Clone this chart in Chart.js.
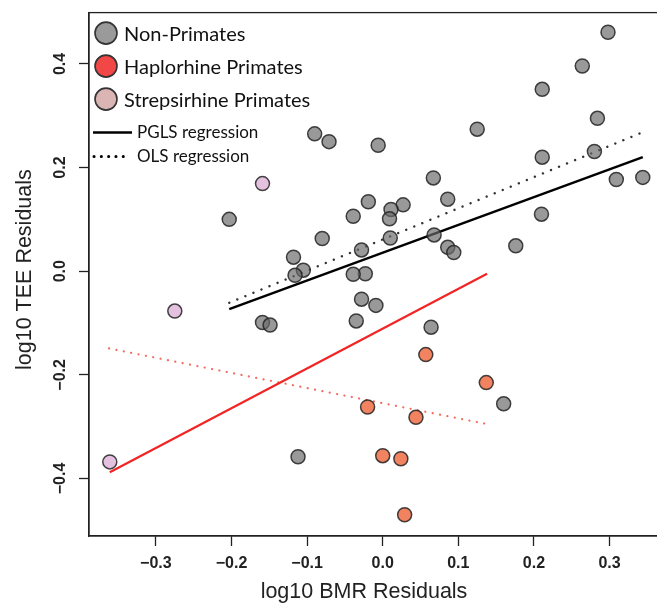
<!DOCTYPE html>
<html>
<head>
<meta charset="utf-8">
<script src="https://cdn.jsdelivr.net/npm/chart.js@4/dist/chart.umd.min.js"></script>
<style>
    html, body {
        margin: 0;
        padding: 0;
        background: #fff;
    }
    #wrap {
        width: 657px;
        height: 606px;
        overflow: hidden;
    }
</style>
</head>
<body>
<div id="wrap">
    <canvas id="chart" width="680" height="606"></canvas>
</div>
<script>
// residuals (log10 BMR, log10 TEE) per group
const nonPrimatesX = [0.298, 0.264, 0.211, 0.284, 0.125, -0.090, -0.071, -0.006, 0.280, 0.211,
    0.067, 0.344, 0.309, 0.086, -0.019, 0.027, 0.011, 0.210, -0.039, 0.009,
    -0.203, 0.068, 0.010, -0.080, 0.176, 0.086, -0.028, 0.094, -0.118, -0.105,
    -0.023, -0.039, -0.116, -0.028, -0.009, -0.035, -0.159, -0.149, 0.064, 0.160,
    -0.112]
const nonPrimatesY = [0.461, 0.396, 0.351, 0.295, 0.274, 0.265, 0.250, 0.243, 0.231, 0.220,
    0.180, 0.181, 0.177, 0.139, 0.134, 0.128, 0.119, 0.110, 0.106, 0.101,
    0.100, 0.070, 0.064, 0.063, 0.049, 0.046, 0.041, 0.036, 0.027, 0.002,
    -0.005, -0.006, -0.008, -0.054, -0.066, -0.096, -0.099, -0.104, -0.108, -0.256,
    -0.358]

const haplorhineX = [0.057, 0.137, -0.020, 0.044, 0.000, 0.024, 0.029]
const haplorhineY = [-0.161, -0.215, -0.262, -0.282, -0.356, -0.362, -0.470]

const strepsirhineX = [-0.159, -0.275, -0.361]
const strepsirhineY = [0.169, -0.077, -0.368]

// fitted regression segments (endpoints)
const pglsAllX = [-0.203, 0.344]
const pglsAllY = [-0.073, 0.220]
const olsAllX = [-0.203, 0.342]
const olsAllY = [-0.061, 0.267]
const pglsPrimatesX = [-0.361, 0.138]
const pglsPrimatesY = [-0.388, -0.005]
const olsPrimatesX = [-0.362, 0.138]
const olsPrimatesY = [-0.149, -0.295]

const xTicks = [-0.3, -0.2, -0.1, 0.0, 0.1, 0.2, 0.3]
const yTicks = [-0.4, -0.2, 0.0, 0.2, 0.4]
const xTickLabels = ['\u22120.3', '\u22120.2', '\u22120.1', '0.0', '0.1', '0.2', '0.3']
const yTickLabels = ['\u22120.4', '\u22120.2', '0.0', '0.2', '0.4']

const xTitle = 'log10 BMR Residuals'
const yTitle = 'log10 TEE Residuals'
const groupLabels = ['Non-Primates', 'Haplorhine Primates', 'Strepsirhine Primates']
const lineLabels = ['PGLS regression', 'OLS regression']

const pairs = (xs, ys) => xs.map((x, i) => ({ x, y: ys[i] }))

const AXIS_FONT = 'Liberation Sans'
const LEGEND_FONT = 'Lato'
const INK = '#222'

const pointStyle = (fill) => ({
    type: 'scatter',
    backgroundColor: fill,
    borderColor: 'rgba(35, 35, 35, 0.85)',
    borderWidth: 1.5,
    pointRadius: 7,
    order: 0,
})

const segment = (data, color, width, dash) => ({
    type: 'line',
    data,
    borderColor: color,
    borderWidth: width,
    borderDash: dash || [],
    borderCapStyle: dash ? 'round' : 'butt',
    pointRadius: 0,
    fill: false,
    order: 1,
})

// box around the plotting region plus the two axis titles
const framePlugin = {
    id: 'frame',
    afterDraw(chart) {
        const { ctx, chartArea } = chart
        ctx.save()
        ctx.strokeStyle = INK
        ctx.lineWidth = 1.3
        ctx.strokeRect(chartArea.left, chartArea.top,
            chartArea.right - chartArea.left, chartArea.bottom - chartArea.top)

        ctx.fillStyle = INK
        ctx.font = `21.5px ${AXIS_FONT}`
        ctx.textAlign = 'center'
        ctx.textBaseline = 'middle'
        ctx.fillText(xTitle, chartArea.left + 275, chartArea.bottom + 56)

        ctx.translate(25, chartArea.top + 257)
        ctx.rotate(-Math.PI / 2)
        ctx.fillText(yTitle, 0, 0)
        ctx.restore()
    },
}

// legend drawn inside the top-left corner of the plot
const legendBoxPlugin = {
    id: 'legendBox',
    afterDraw(chart) {
        const { ctx, chartArea } = chart
        const left = chartArea.left
        const top = chartArea.top
        const swatches = ['#9a9a9a', '#f24747', '#dbb4b4']

        ctx.save()
        ctx.textBaseline = 'middle'
        ctx.textAlign = 'left'
        ctx.fillStyle = '#111'

        groupLabels.forEach((label, i) => {
            const cy = top + 20.5 + i * 33
            ctx.beginPath()
            ctx.arc(left + 17, cy, 11, 0, Math.PI * 2)
            ctx.fillStyle = swatches[i]
            ctx.fill()
            ctx.lineWidth = 1.6
            ctx.strokeStyle = '#333'
            ctx.stroke()
            ctx.fillStyle = '#111'
            ctx.font = `20px ${LEGEND_FONT}`
            ctx.fillText(label, left + 35, cy + 1)
        })

        ctx.font = `17px ${LEGEND_FONT}`
        ctx.strokeStyle = '#000'

        let cy = top + 120
        ctx.lineWidth = 2.5
        ctx.beginPath()
        ctx.moveTo(left + 4, cy)
        ctx.lineTo(left + 43, cy)
        ctx.stroke()
        ctx.fillText(lineLabels[0], left + 48, cy)

        cy = top + 144
        ctx.lineWidth = 3
        ctx.lineCap = 'round'
        ctx.setLineDash([0.1, 7.2])
        ctx.beginPath()
        ctx.moveTo(left + 5, cy)
        ctx.lineTo(left + 41, cy)
        ctx.stroke()
        ctx.setLineDash([])
        ctx.fillText(lineLabels[1], left + 48, cy)
        ctx.restore()
    },
}

new Chart(document.getElementById('chart'), {
    data: {
        datasets: [
            { ...pointStyle('rgba(105, 105, 105, 0.68)'), data: pairs(nonPrimatesX, nonPrimatesY) },
            { ...pointStyle('rgba(240, 124, 88, 0.95)'), data: pairs(haplorhineX, haplorhineY) },
            { ...pointStyle('rgba(228, 190, 222, 0.95)'), data: pairs(strepsirhineX, strepsirhineY) },
            segment(pairs(pglsAllX, pglsAllY), '#000', 2.4),
            segment(pairs(olsAllX, olsAllY), '#333', 2.4, [0.1, 8.6]),
            segment(pairs(pglsPrimatesX, pglsPrimatesY), '#f22424', 2.2),
            segment(pairs(olsPrimatesX, olsPrimatesY), '#f46a5c', 2.2, [0.1, 7.4]),
        ],
    },
    options: {
        responsive: false,
        devicePixelRatio: 1,
        animation: false,
        events: [],
        layout: {
            padding: { top: 8, right: 15.3, left: 0, bottom: 0 },
        },
        plugins: {
            legend: { display: false },
            tooltip: { enabled: false },
        },
        scales: {
            x: {
                type: 'linear',
                min: -0.3885,
                max: 0.373,
                afterBuildTicks: (scale) => {
                    scale.ticks = xTicks.map((value) => ({ value }))
                },
                afterFit: (scale) => {
                    scale.height = 70
                },
                grid: {
                    drawOnChartArea: false,
                    tickLength: 10,
                    tickColor: INK,
                    tickWidth: 1.3,
                },
                border: { color: INK, width: 1.3 },
                ticks: {
                    autoSkip: false,
                    maxRotation: 0,
                    padding: 8.4,
                    color: INK,
                    font: { family: AXIS_FONT, size: 16, weight: 'bold' },
                    callback: (value) => xTickLabels[xTicks.findIndex((t) => Math.abs(t - value) < 1e-9)],
                },
            },
            y: {
                type: 'linear',
                min: -0.511,
                max: 0.499,
                afterBuildTicks: (scale) => {
                    scale.ticks = yTicks.map((value) => ({ value }))
                },
                afterFit: (scale) => {
                    scale.width = 89
                },
                grid: {
                    drawOnChartArea: false,
                    tickLength: 10,
                    tickColor: INK,
                    tickWidth: 1.3,
                },
                border: { color: INK, width: 1.3 },
                ticks: {
                    autoSkip: false,
                    minRotation: 90,
                    maxRotation: 90,
                    crossAlign: 'center',
                    padding: 3,
                    color: INK,
                    font: { family: AXIS_FONT, size: 16, weight: 'bold' },
                    callback: (value) => yTickLabels[yTicks.findIndex((t) => Math.abs(t - value) < 1e-9)],
                },
            },
        },
    },
    plugins: [framePlugin, legendBoxPlugin],
})
</script>
</body>
</html>
